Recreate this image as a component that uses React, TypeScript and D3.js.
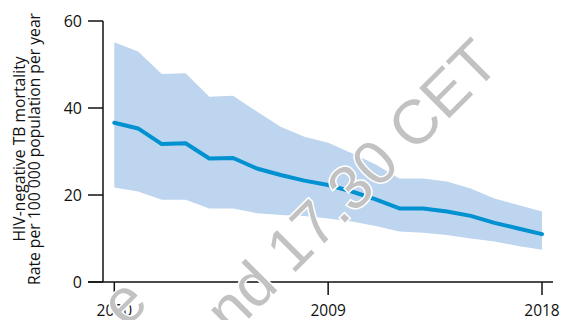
import React from "react";
import * as d3 from "d3";

const years = [2000, 2001, 2002, 2003, 2004, 2005, 2006, 2007, 2008, 2009, 2010, 2011, 2012, 2013, 2014, 2015, 2016, 2017, 2018];
const bestEstimate = [36.6, 35.3, 31.7, 31.9, 28.4, 28.5, 26.1, 24.6, 23.3, 22.3, 20.8, 19.0, 16.9, 16.9, 16.2, 15.2, 13.6, 12.3, 11.0];
const upperBound = [55.1, 53.0, 47.8, 48.0, 42.6, 42.8, 39.2, 35.7, 33.4, 32.0, 29.6, 27.0, 23.8, 23.8, 23.1, 21.5, 19.2, 17.7, 16.2];
const lowerBound = [21.7, 20.8, 18.9, 18.9, 16.9, 16.9, 15.8, 15.4, 15.2, 14.6, 13.9, 12.9, 11.6, 11.3, 10.8, 10.0, 9.3, 8.3, 7.4];
const yTicks = [0, 20, 40, 60];
const xTicks = [2000, 2009, 2018];
const titleLines = ["HIV-negative TB mortality", "Rate per 100 000 population per year"];
const watermarkA = "e";
const watermarkB = "nd 17.30 CET";

const W = 562;
const H = 320;
const FONT = "'Open Sans', 'Noto Sans', sans-serif";

export default function App() {
  const x = d3.scaleLinear().domain([2000, 2018]).range([114.3, 542]);
  const y = d3.scaleLinear().domain([0, 60]).range([282, 21]);
  const axisX = 103;

  const rows = years.map((yr, i) => ({ yr, m: bestEstimate[i], lo: lowerBound[i], hi: upperBound[i] }));
  const area = d3
    .area<any>()
    .x((d) => x(d.yr))
    .y0((d) => y(d.lo))
    .y1((d) => y(d.hi));
  const line = d3
    .line<any>()
    .x((d) => x(d.yr))
    .y((d) => y(d.m));

  return (
    <svg width={W} height={H} style={{ position: "absolute", left: 0, top: 0, background: "#fff" }}>
      <path d={area(rows) || ""} fill="#bdd5ee" />
      <path d={line(rows) || ""} fill="none" stroke="#0091d1" strokeWidth={4} strokeLinejoin="round" strokeLinecap="round" />

      {/* y axis */}
      <line x1={axisX} x2={axisX} y1={y(60)} y2={y(0)} stroke="#111" strokeWidth={1.5} />
      {yTicks.map((t) => (
        <g key={t}>
          <line x1={88} x2={axisX} y1={y(t)} y2={y(t)} stroke="#111" strokeWidth={1.5} />
          <text x={82} y={y(t)} dy="0.36em" textAnchor="end" fontFamily={FONT} fontSize={16} fill="#111">
            {t}
          </text>
        </g>
      ))}
      {/* x axis */}
      <line x1={88} x2={553} y1={y(0)} y2={y(0)} stroke="#111" strokeWidth={1.5} />
      {xTicks.map((t) => (
        <g key={t}>
          <line x1={x(t)} x2={x(t)} y1={y(0)} y2={295} stroke="#111" strokeWidth={1.5} />
          <text x={x(t)} y={316} textAnchor="middle" fontFamily={FONT} fontSize={15.5} fill="#111">
            {t}
          </text>
        </g>
      ))}

      {/* axis title */}
      {titleLines.map((s, i) => (
        <text
          key={s}
          transform={`translate(${25 + i * 15},149) rotate(-90)`}
          textAnchor="middle"
          fontFamily={FONT}
          fontSize={15.7}
          fill="#111"
        >
          {s}
        </text>
      ))}

      {/* watermark */}
      <g fontFamily="'Liberation Sans', Arial, sans-serif" fontSize={62} fill="#c2c2c2" stroke="#fff" strokeWidth={3} style={{ paintOrder: "stroke" } as any}>
        <text transform="translate(139,293) rotate(-45)" textAnchor="end" dy="0.26em">
          {watermarkA}
        </text>
        <text transform="translate(486,50) rotate(-45)" textAnchor="end" dy="0.36em">
          {watermarkB}
        </text>
      </g>
    </svg>
  );
}
